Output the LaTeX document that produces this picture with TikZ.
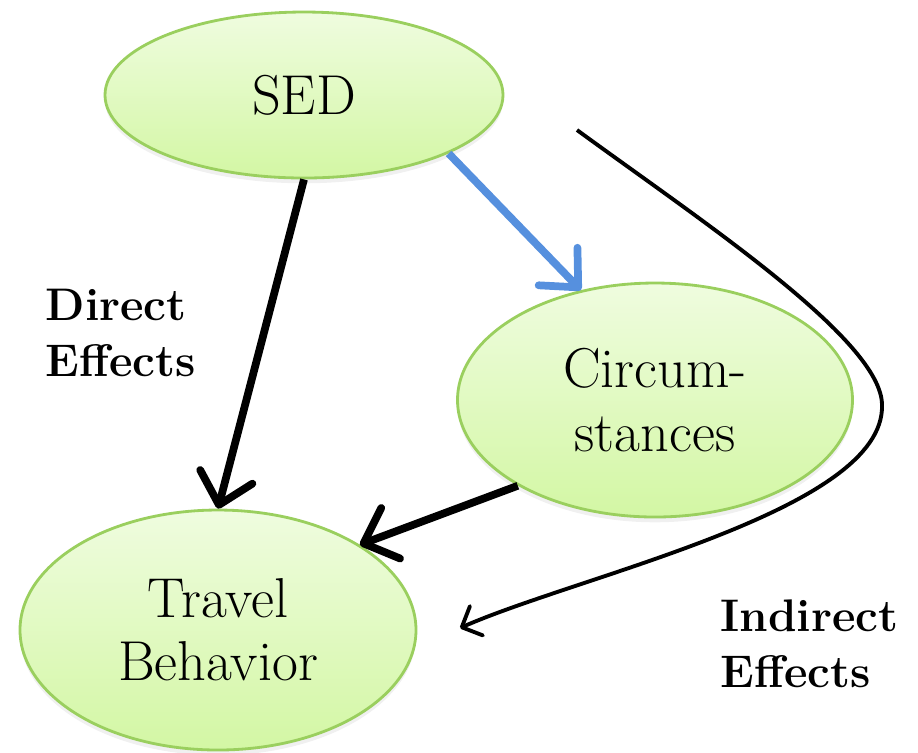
\documentclass[tikz,border=0pt]{standalone}
\usepackage{amsmath, amssymb}
\usepackage{xcolor}
\usepackage{tikz}
\usetikzlibrary{shapes.geometric, arrows.meta, shadows}

\definecolor{bubbletop}{HTML}{EFFCDF}
\definecolor{bubblebot}{HTML}{D3F7A4}
\definecolor{bubbleedge}{HTML}{9ACF5E}
\definecolor{linkblue}{HTML}{5690DE}

\tikzset{
  bubble/.style={ellipse, draw=bubbleedge, line width=0.8pt, top color=bubbletop, bottom color=bubblebot,
    inner sep=0pt, align=center, font=\fontsize{16}{18}\selectfont,
    drop shadow={opacity=0.12, shadow xshift=0pt, shadow yshift=-1.5pt}},
  effect/.style={line width=2.2pt, -{Straight Barb[length=2.9mm, width=5.4mm, round]}},
  tag/.style={font=\fontsize{13}{16}\bfseries\selectfont, align=left, inner sep=0pt, anchor=north west}
}

\begin{document}
\begin{tikzpicture}
\useasboundingbox (0,0) rectangle (9.18,-7.52);

\node[bubble, minimum width=3.98cm, minimum height=1.66cm] (sed) at (3.04,-0.95) {SED};
\node[bubble, minimum width=3.95cm, minimum height=2.34cm] (circ) at (6.55,-4.00) {Circum-\\stances};
\node[bubble, minimum width=3.96cm, minimum height=2.40cm] (travel) at (2.18,-6.30) {Travel\\Behavior};

\draw[effect] (sed.south) -- (travel.north);
\draw[effect, linkblue] (sed.-22.8) -- (circ.124);
\draw[effect] (circ.212.5) -- (travel.31.3);

% indirect path around the circumstances
\coordinate (ind start) at (5.77,-1.30);
\coordinate (ind turn) at (8.82,-4.05);
\coordinate (ind end) at (4.60,-6.28);
\draw[line width=1.1pt, -{Straight Barb[length=1.6mm, width=3.2mm, round]}]
  (ind start) .. controls (7.0,-2.2) and (8.82,-3.4) .. (ind turn)
  .. controls (8.85,-5.1) and (5.8,-5.75) .. (ind end);

\node[tag] (direct) at (0.45,-2.88) {Direct\\Effects};
\node[tag] (indirect) at (7.20,-5.99) {Indirect\\Effects};
\end{tikzpicture}
\end{document}
